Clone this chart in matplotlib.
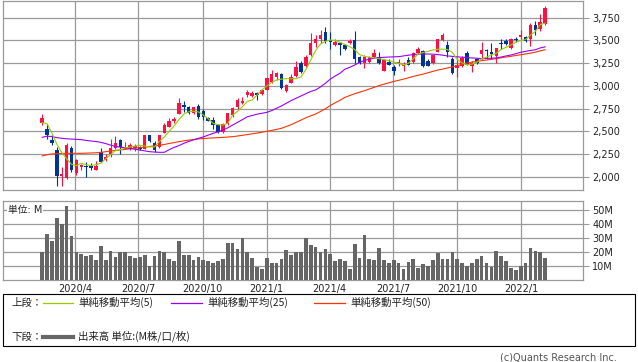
import matplotlib
matplotlib.use("Agg")
import matplotlib.pyplot as plt
import matplotlib.dates as mdates
from matplotlib.lines import Line2D
from matplotlib.patches import Rectangle
import pandas as pd
import numpy as np

plt.rcParams['font.family'] = ['DejaVu Sans', 'Noto Sans CJK JP']

# ---------------- data (weekly) ----------------
start_date = "2020-02-14"
n_weeks = 104

opens = [2590, 2522, 2404, 2294, 2007, 1985, 2320, 2044, 2110, 2125, 2125, 2081, 2272, 2184, 2257, 2316,
         2404, 2309, 2302, 2316, 2331, 2309, 2456, 2368, 2331, 2478, 2551, 2610, 2691, 2787, 2765, 2699,
         2779, 2728, 2647, 2625, 2574, 2493, 2581, 2684, 2772, 2809, 2897, 2890, 2919, 2912, 2956, 3044,
         3095, 3131, 2941, 3029, 3109, 3256, 3219, 3336, 3468, 3512, 3593, 3505, 3446, 3468, 3453, 3468,
         3505, 3322, 3248, 3263, 3314, 3314, 3168, 3263, 3212, 3248, 3219, 3285, 3263, 3358, 3387, 3270,
         3248, 3373, 3505, 3453, 3297, 3196, 3218, 3363, 3218, 3297, 3348, 3399, 3370, 3326, 3471, 3493,
         3413, 3518, 3536, 3536, 3515, 3674, 3623, 3681]
highs = [2695, 2577, 2456, 2331, 2115, 2368, 2335, 2200, 2147, 2162, 2154, 2173, 2316, 2257, 2419, 2449,
         2419, 2382, 2368, 2360, 2338, 2463, 2463, 2390, 2463, 2588, 2647, 2662, 2868, 2838, 2779, 2772,
         2801, 2750, 2654, 2662, 2581, 2588, 2706, 2772, 2868, 2875, 2956, 2948, 2934, 2970, 3095, 3175,
         3153, 3146, 3022, 3131, 3270, 3270, 3336, 3578, 3563, 3615, 3651, 3593, 3512, 3483, 3461, 3519,
         3600, 3329, 3336, 3329, 3409, 3373, 3292, 3300, 3226, 3300, 3263, 3322, 3373, 3431, 3395, 3300,
         3344, 3519, 3578, 3490, 3314, 3290, 3326, 3381, 3269, 3310, 3486, 3406, 3471, 3417, 3515, 3515,
         3530, 3536, 3616, 3551, 3688, 3717, 3790, 3877]
lows = [2575, 2412, 2346, 1905, 1905, 1980, 2050, 2022, 2081, 2000, 2074, 2074, 2169, 2177, 2221, 2309,
        2250, 2302, 2294, 2287, 2294, 2305, 2382, 2279, 2316, 2478, 2544, 2588, 2691, 2713, 2691, 2691,
        2632, 2625, 2610, 2529, 2485, 2485, 2574, 2662, 2750, 2800, 2882, 2882, 2846, 2904, 2956, 3029,
        3066, 2970, 2934, 3029, 3102, 3146, 3212, 3329, 3431, 3468, 3468, 3402, 3439, 3344, 3395, 3461,
        3248, 3241, 3197, 3248, 3307, 3241, 3160, 3226, 3117, 3219, 3168, 3226, 3256, 3351, 3212, 3219,
        3241, 3373, 3497, 3322, 3131, 3102, 3211, 3225, 3153, 3240, 3297, 3297, 3297, 3247, 3406, 3450,
        3406, 3478, 3515, 3478, 3435, 3558, 3601, 3674]
closes = [2650, 2456, 2368, 2007, 2030, 2346, 2074, 2191, 2133, 2110, 2103, 2125, 2169, 2221, 2316, 2375,
          2331, 2331, 2346, 2338, 2302, 2456, 2390, 2294, 2456, 2574, 2610, 2632, 2809, 2765, 2699, 2765,
          2654, 2662, 2610, 2566, 2493, 2581, 2699, 2757, 2846, 2838, 2934, 2926, 2897, 2956, 3087, 3131,
          3146, 2978, 3014, 3102, 3212, 3153, 3322, 3468, 3519, 3556, 3490, 3483, 3483, 3453, 3402, 3490,
          3292, 3248, 3322, 3314, 3365, 3248, 3285, 3226, 3160, 3263, 3234, 3226, 3365, 3409, 3219, 3219,
          3336, 3519, 3556, 3373, 3138, 3225, 3312, 3232, 3247, 3247, 3392, 3384, 3348, 3417, 3457, 3457,
          3515, 3500, 3565, 3493, 3674, 3616, 3703, 3862]

ma5 = [2597, 2585, 2480, 2360, 2270, 2200, 2140, 2125, 2150, 2135, 2125, 2135, 2150, 2200, 2245, 2290,
       2300, 2320, 2330, 2340, 2348, 2340, 2330, 2330, 2390, 2440, 2500, 2560, 2630, 2690, 2717, 2722,
       2715, 2680, 2640, 2590, 2575, 2571, 2590, 2680, 2720, 2772, 2830, 2846, 2900, 2956, 3000, 3040,
       3066, 3075, 3080, 3080, 3080, 3100, 3180, 3285, 3390, 3460, 3490, 3505, 3500, 3480, 3455, 3431,
       3400, 3345, 3325, 3315, 3308, 3300, 3290, 3278, 3262, 3249, 3230, 3249, 3300, 3350, 3368, 3380,
       3395, 3403, 3405, 3400, 3370, 3290, 3255, 3232, 3240, 3260, 3300, 3315, 3340, 3360, 3400, 3425,
       3450, 3480, 3500, 3510, 3560, 3600, 3675, 3690]
ma25 = [2436, 2448, 2445, 2432, 2425, 2420, 2416, 2414, 2410, 2402, 2395, 2390, 2380, 2367, 2350, 2336,
        2328, 2320, 2313, 2305, 2296, 2287, 2278, 2274, 2271, 2271, 2300, 2325, 2345, 2370, 2390, 2408,
        2425, 2440, 2460, 2480, 2495, 2515, 2540, 2571, 2600, 2630, 2662, 2675, 2690, 2700, 2710, 2730,
        2755, 2780, 2810, 2840, 2865, 2890, 2915, 2940, 2956, 2990, 3030, 3075, 3110, 3140, 3185, 3205,
        3230, 3260, 3280, 3295, 3304, 3312, 3315, 3318, 3320, 3322, 3330, 3338, 3345, 3350, 3351, 3351,
        3350, 3345, 3338, 3330, 3325, 3320, 3316, 3312, 3308, 3305, 3300, 3302, 3305, 3308, 3318, 3330,
        3340, 3355, 3370, 3380, 3390, 3398, 3418, 3430]
ma50 = [2231, 2245, 2253, 2256, 2258, 2260, 2260, 2260, 2260, 2262, 2264, 2266, 2270, 2278, 2285, 2292,
        2297, 2303, 2310, 2316, 2322, 2328, 2335, 2342, 2348, 2357, 2368, 2378, 2388, 2397, 2405, 2412,
        2418, 2422, 2426, 2430, 2432, 2435, 2439, 2443, 2450, 2458, 2466, 2474, 2482, 2492, 2502, 2512,
        2523, 2535, 2555, 2575, 2600, 2625, 2650, 2672, 2692, 2720, 2750, 2785, 2815, 2843, 2875, 2895,
        2915, 2932, 2948, 2967, 2985, 3005, 3020, 3035, 3050, 3062, 3075, 3090, 3105, 3118, 3130, 3145,
        3160, 3175, 3185, 3198, 3210, 3222, 3240, 3252, 3262, 3270, 3278, 3285, 3292, 3300, 3310, 3318,
        3326, 3335, 3343, 3352, 3360, 3372, 3386, 3398]

volume_m = [19.8, 32.6, 28, 44.5, 39.8, 52.6, 31.7, 20.2, 18.8, 17.4, 18.1, 14.5, 24.5, 14.5, 21, 16.7,
            20.2, 19.8, 17.4, 16.2, 16.7, 18.1, 10.2, 17.4, 21, 19.8, 15.2, 13.8, 28, 18.1, 18.1, 14.5,
            16.7, 14.5, 13.8, 12.4, 13.8, 15.2, 26.2, 26.2, 22.4, 30.2, 20.2, 16, 9.8, 8.1, 16, 12.4,
            12.4, 15.2, 21.7, 18.1, 20.2, 20.2, 29.8, 25.2, 23.8, 20.2, 22.4, 18.8, 13.8, 15.2, 13.8, 8.1,
            26, 16, 32.4, 15.2, 14.5, 23.1, 14.5, 12.4, 14.5, 12.4, 8.1, 13.1, 15.2, 8.8, 11.7, 10.2,
            14.5, 19.5, 15.2, 15.2, 20.2, 15.2, 12.4, 10.2, 12.4, 15.2, 17.4, 12.4, 9.5, 21, 17.4, 13.8,
            8.8, 7.4, 10.2, 12.4, 23.1, 21, 20.2, 16]

price_ticks = [2000, 2250, 2500, 2750, 3000, 3250, 3500, 3750]
price_labels = ["2,000", "2,250", "2,500", "2,750", "3,000", "3,250", "3,500", "3,750"]
vol_ticks = [10, 20, 30, 40, 50]
vol_labels = ["10M", "20M", "30M", "40M", "50M"]
month_dates = ["2020-04-01", "2020-07-01", "2020-10-01", "2021-01-01",
               "2021-04-01", "2021-07-01", "2021-10-01", "2022-01-01"]
month_labels = ["2020/4", "2020/7", "2020/10", "2021/1", "2021/4", "2021/7", "2021/10", "2022/1"]

legend_top = ["単純移動平均(5)", "単純移動平均(25)", "単純移動平均(50)"]
legend_bottom = "出来高 単位:(M株/口/枚)"

# ---------------- style ----------------
UP = "#ff1040"
DOWN = "#003399"
C_MA5 = "#99cc00"
C_MA25 = "#9900ff"
C_MA50 = "#ff3300"
GRID = "#999999"
VOLC = "#666666"

W, H = 638, 362
fig = plt.figure(figsize=(W / 100, H / 100), dpi=100)
fig.patch.set_facecolor("white")


def rect(x0, y0, x1, y1):
    return [x0 / W, 1 - y1 / H, (x1 - x0) / W, (y1 - y0) / H]


ax1 = fig.add_axes(rect(3, 0.5, 583, 190))
ax2 = fig.add_axes(rect(3, 201, 583, 280.3))

dates = pd.date_range(start_date, periods=n_weeks, freq="7D")
x = mdates.date2num(dates)
x0 = mdates.date2num(pd.Timestamp(start_date) - pd.Timedelta(days=56.2))
x1 = mdates.date2num(pd.Timestamp(start_date) + pd.Timedelta(days=775.3))
mx = mdates.date2num(pd.to_datetime(month_dates))

o = np.array(opens, float)
c = np.array(closes, float)
hi = np.array(highs, float)
lo = np.array(lows, float)
up = c >= o
cols = np.where(up, UP, DOWN)

for ax in (ax1, ax2):
    ax.set_xlim(x0, x1)
    for s in ax.spines.values():
        s.set_color(GRID)
        s.set_linewidth(0.9)
    for m in mx:
        ax.axvline(m, color=GRID, lw=0.9, zorder=0)
    ax.set_facecolor("white")

# price panel
ax1.set_ylim(1857, 3939)
for p in price_ticks:
    ax1.axhline(p, color=GRID, lw=0.9, zorder=0)
ax1.vlines(x, lo, hi, colors=cols, lw=0.8, zorder=2)
body_h = np.maximum(np.abs(c - o), 6)
ax1.bar(x, body_h, bottom=np.minimum(o, c), width=5.0, color=cols, linewidth=0, zorder=3)
ax1.plot(x, ma50, color=C_MA50, lw=0.8, zorder=4)
ax1.plot(x, ma25, color=C_MA25, lw=0.8, zorder=4)
ax1.plot(x, ma5, color=C_MA5, lw=0.8, zorder=4)
ax1.yaxis.tick_right()
ax1.set_yticks(price_ticks)
ax1.set_yticklabels(price_labels)
ax1.tick_params(axis="y", length=4.3, width=0.8, color=GRID, pad=2.5, labelsize=7, labelcolor="#222222")
ax1.set_xticks([])

# volume panel
ax2.set_ylim(0, 56.4)
for v in vol_ticks:
    ax2.axhline(v, color=GRID, lw=0.9, zorder=0)
ax2.bar(x, volume_m, width=5.3, color=VOLC, linewidth=0, zorder=3)
ax2.yaxis.tick_right()
ax2.set_yticks(vol_ticks)
ax2.set_yticklabels(vol_labels)
ax2.tick_params(axis="y", length=4.3, width=0.8, color=GRID, pad=2.5, labelsize=7, labelcolor="#222222")
ax2.set_xticks(mx)
ax2.set_xticklabels(month_labels)
ax2.tick_params(axis="x", length=0, pad=2.5, labelsize=7, labelcolor="#222222")
ax2.text(5 / 580, 1 - 9.5 / 79.3, "単位: M", transform=ax2.transAxes, fontsize=7,
         va="center", ha="left", color="#222222", zorder=5,
         family=["DejaVu Sans", "Noto Sans CJK JP"],
         bbox=dict(facecolor="white", edgecolor="none", pad=0.5))

# legend box
fig.add_artist(Rectangle((3 / W, 1 - 346 / H), 632 / W, 52 / H, transform=fig.transFigure,
                         fill=False, ec="black", lw=0.8))
jp = ["Noto Sans CJK JP", "DejaVu Sans"]


def fx(px):
    return px / W


def fy(py):
    return 1 - py / H


row1 = 302.7
row2 = 336.7
fig.text(fx(11), fy(row1), "上段：", fontsize=7.5, family=jp, va="center", ha="left", color="#222222")
seg = [(43, 73, C_MA5, 78), (171, 202, C_MA25, 207), (314, 345, C_MA50, 350)]
for (a, b, col, tx), lab in zip(seg, legend_top):
    fig.add_artist(Line2D([fx(a), fx(b)], [fy(row1), fy(row1)], color=col, lw=0.9,
                          transform=fig.transFigure))
    fig.text(fx(tx), fy(row1), lab, fontsize=7.5, family=jp, va="center", ha="left", color="#222222")
fig.text(fx(11), fy(row2), "下段：", fontsize=7.5, family=jp, va="center", ha="left", color="#222222")
fig.add_artist(Line2D([fx(43), fx(73)], [fy(row2), fy(row2)], color=VOLC, lw=3,
                      transform=fig.transFigure))
fig.text(fx(78), fy(row2), legend_bottom, fontsize=7.5, family=jp, va="center", ha="left", color="#222222")

fig.text(fx(617), fy(357.5), "(c)Quants Research Inc.", fontsize=7, va="center", ha="right", color="#555555")

fig.savefig("out.png", dpi=100, facecolor="white")
